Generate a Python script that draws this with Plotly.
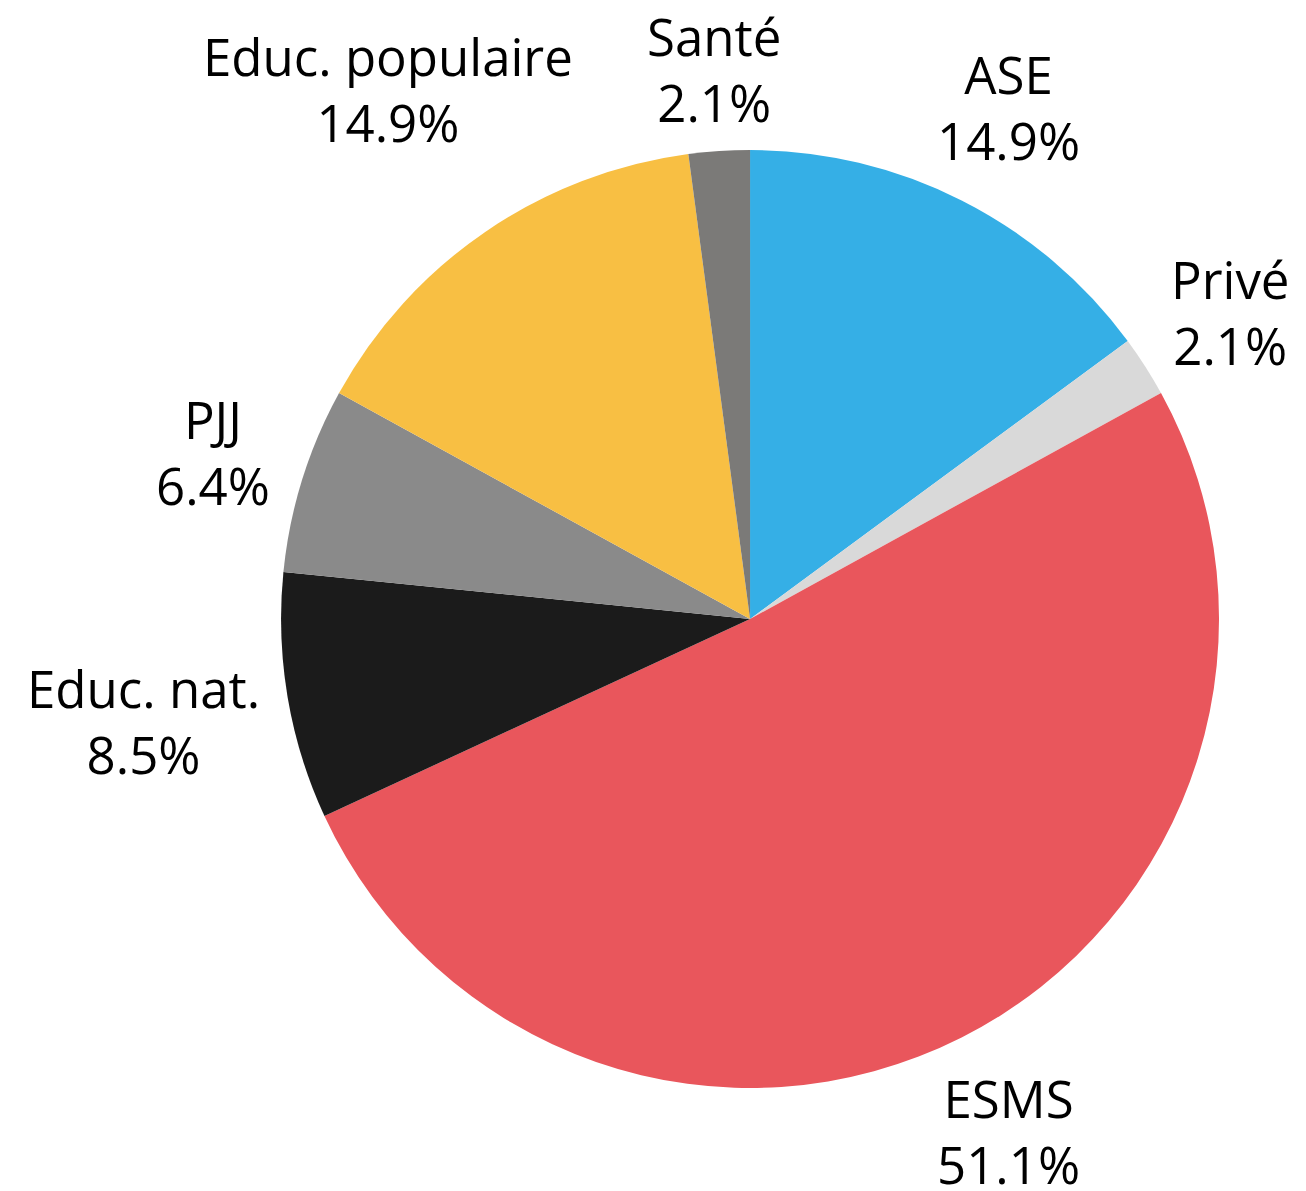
import math
import plotly.graph_objects as go

labels = ["ASE", "Privé", "ESMS", "Educ. nat.", "PJJ", "Educ. populaire", "Santé"]
values = [14.9, 2.1, 51.1, 8.5, 6.4, 14.9, 2.1]
colors = ["#35AFE6", "#D9D9D9", "#E9565C", "#1B1B1B", "#8A8A8A", "#F8BF43", "#7B7A78"]

W, H = 1306, 1191
FONT = "Open Sans"
FS = 51
DOM_X = [0.2152, 0.9334]
DOM_Y = [0.0865, 0.8741]

# approximate Open Sans advance widths (units per 2048 em)
ADV = {" ": 532, ".": 545, "%": 1706, "E": 1147, "d": 1255, "u": 1255, "c": 991,
       "p": 1255, "o": 1237, "l": 526, "a": 1139, "i": 518, "r": 836, "e": 1149,
       "n": 1257, "t": 717, "A": 1296, "S": 1064, "M": 1751, "P": 1200, "J": 586,
       "v": 1018, "é": 1149}


def text_w(s):
    return sum(ADV.get(ch, 1171) for ch in s) * FS / 2048.0


fig = go.Figure(go.Pie(
    labels=labels,
    values=values,
    sort=False,
    direction="clockwise",
    rotation=0,
    marker=dict(colors=colors, line=dict(width=0)),
    textinfo="none",
    hoverinfo="label+percent",
    showlegend=False,
    domain=dict(x=DOM_X, y=DOM_Y),
))

# outside labels placed along each slice's mid-angle
total = sum(values)
cx = W * (DOM_X[0] + DOM_X[1]) / 2
cy = H * (1 - (DOM_Y[0] + DOM_Y[1]) / 2)
r = min(W * (DOM_X[1] - DOM_X[0]), H * (DOM_Y[1] - DOM_Y[0])) / 2
pad = 22
box_h = 2.2 * FS
cum = 0.0
for lab, v in zip(labels, values):
    theta = 2 * math.pi * (cum + v / 2) / total
    cum += v
    ux, uy = math.sin(theta), -math.cos(theta)
    pct = f"{100 * v / total:.1f}%"
    w = max(text_w(lab), text_w(pct))
    d = r + pad + abs(ux) * w / 2 + abs(uy) * box_h / 2
    px, py = cx + d * ux, cy + d * uy
    fig.add_annotation(
        x=px / W, y=1 - py / H, xref="paper", yref="paper",
        xanchor="center", yanchor="middle",
        text=f"{lab}<br>{pct}", showarrow=False,
        font=dict(family=FONT, size=FS, color="#000000"),
    )

fig.update_layout(
    width=W, height=H,
    paper_bgcolor="white",
    margin=dict(l=0, r=0, t=0, b=0, autoexpand=False),
)
fig.write_html("out.html", config={"displayModeBar": False},
               post_script="document.body.style.margin='0';")
